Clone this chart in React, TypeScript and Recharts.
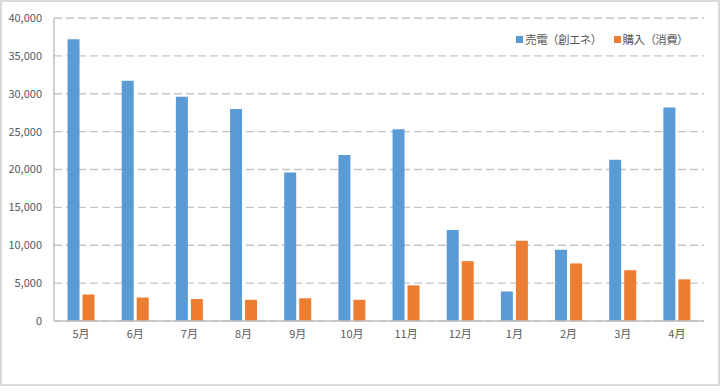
import { BarChart, Bar, XAxis, YAxis, CartesianGrid, Legend } from 'recharts';

const months = ['5月', '6月', '7月', '8月', '9月', '10月', '11月', '12月', '1月', '2月', '3月', '4月'];
const sold = [37200, 31700, 29600, 28000, 19600, 21900, 25300, 12000, 3900, 9400, 21300, 28200];
const bought = [3500, 3100, 2900, 2800, 3000, 2800, 4700, 7900, 10600, 7600, 6700, 5500];
const yTicks = [0, 5000, 10000, 15000, 20000, 25000, 30000, 35000, 40000];

const SOLD_NAME = '売電（創エネ）';
const BOUGHT_NAME = '購入（消費）';

const data = months.map((m, i) => ({ month: m, sold: sold[i], bought: bought[i] }));

const FONT = '"Noto Sans CJK JP", "Noto Sans", sans-serif';

function LegendContent({ payload }: any) {
  return (
    <div style={{ display: 'flex', whiteSpace: 'nowrap', fontFamily: FONT, fontSize: 11.5, letterSpacing: -0.6, color: '#595959' }}>
      {(payload || []).map((p: any, i: number) => (
        <span key={p.value} style={{ display: 'flex', alignItems: 'center', flexShrink: 0, marginLeft: i ? 12 : 0 }}>
          <span style={{ width: 7, height: 7, background: p.color, marginRight: 2, display: 'inline-block' }} />
          {p.value}
        </span>
      ))}
    </div>
  );
}

export default function App() {
  return (
    <div
      style={{
        position: 'absolute', left: 0, top: 0, width: 720, height: 386,
        boxSizing: 'border-box', border: '2px solid #d9d9d9', background: '#fff',
      }}
    >
      <div style={{ position: 'absolute', left: -2, top: -2 }}>
        <BarChart
          width={720}
          height={391}
          data={data}
          margin={{ top: 18, right: 16, bottom: 40, left: 0 }}
          barCategoryGap="25%"
          barGap={3}
        >
          <CartesianGrid vertical={false} stroke="#c4c4c4" strokeDasharray="8 4" strokeWidth={1.3} />
          <XAxis
            dataKey="month"
            tickLine={false}
            tickSize={0}
            tickMargin={9}
            axisLine={{ stroke: '#bfbfbf', strokeWidth: 1.5 }}
            tick={{ fontSize: 11, fill: '#595959', fontFamily: FONT }}
            interval={0}
            height={30}
          />
          <YAxis
            domain={[0, 40000]}
            ticks={yTicks}
            width={54}
            tickLine={false}
            tickSize={0}
            tickMargin={12}
            axisLine={{ stroke: '#bfbfbf', strokeWidth: 1.5 }}
            tick={{ fontSize: 11, fill: '#595959', fontFamily: FONT }}
            tickFormatter={(v: number) => v.toLocaleString('en-US')}
          />
          <Legend
            verticalAlign="middle"
            align="center"
            layout="horizontal"
            content={<LegendContent />}
            wrapperStyle={{ top: 31, right: 32, left: 'auto', width: 'auto' }}
          />
          <Bar dataKey="sold" name={SOLD_NAME} fill="#5b9bd5" isAnimationActive={false} />
          <Bar dataKey="bought" name={BOUGHT_NAME} fill="#ed7d31" isAnimationActive={false} />
        </BarChart>
      </div>
    </div>
  );
}
